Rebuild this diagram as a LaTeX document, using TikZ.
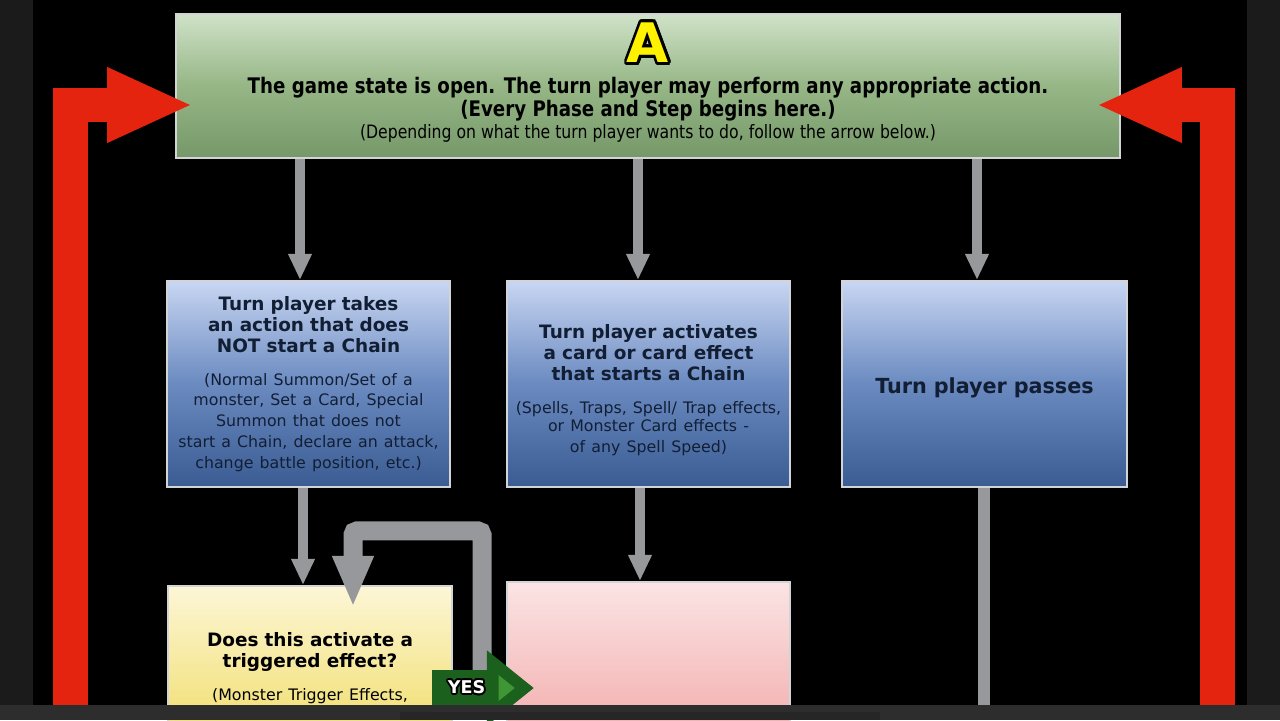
\documentclass[tikz,border=0pt]{standalone}
\usepackage{fontspec}
\setmainfont{DejaVu Sans}
\newfontfamily\condfont[FakeStretch=0.85]{DejaVu Sans}
\usepackage{contour}
\usetikzlibrary{arrows.meta,calc}

\definecolor{greenTop}{RGB}{208,226,200}
\definecolor{greenMid}{RGB}{150,182,134}
\definecolor{greenBot}{RGB}{118,152,104}
\definecolor{blueTop}{RGB}{200,214,242}
\definecolor{blueMid}{RGB}{106,138,192}
\definecolor{blueBot}{RGB}{58,92,146}
\definecolor{yellowTop}{RGB}{252,246,214}
\definecolor{yellowBot}{RGB}{240,220,100}
\definecolor{pinkTop}{RGB}{251,228,228}
\definecolor{pinkBot}{RGB}{242,168,168}
\definecolor{arrowRed}{RGB}{228,36,14}
\definecolor{shaftGray}{RGB}{150,152,156}
\definecolor{rimGray}{RGB}{210,212,216}
\definecolor{yesDark}{RGB}{28,96,30}
\definecolor{yesLight}{RGB}{62,150,52}
\definecolor{textNavy}{RGB}{18,30,52}
\definecolor{sideGray}{RGB}{27,27,27}
\definecolor{barGray}{RGB}{45,45,45}

\newcommand{\titleFont}{\bfseries\fontsize{10.5}{11.9}\selectfont}
\newcommand{\noteFont}{\mdseries\fontsize{9}{11.8}\selectfont}

\begin{document}
\begin{tikzpicture}[x=0.02cm, y=-0.02cm]
  \tikzstyle{box} = [rectangle, draw=rimGray, line width=1.2pt, inner sep=0pt, text=textNavy, align=center]
  \tikzstyle{openBox} = [box, minimum width=18.88cm, minimum height=2.88cm, top color=greenTop, bottom color=greenBot, middle color=greenMid]
  \tikzstyle{actionBox} = [box, minimum width=5.66cm, minimum height=4.12cm, top color=blueTop, bottom color=blueBot, middle color=blueMid, text width=5.4cm, font=\titleFont]
  \tikzstyle{triggerBox} = [box, minimum width=5.68cm, minimum height=3.28cm, top color=yellowTop, bottom color=yellowBot, text width=5.4cm, text=black, font=\titleFont]
  \tikzstyle{chainBox} = [box, minimum width=5.66cm, minimum height=3.36cm, top color=pinkTop, bottom color=pinkBot]

  \tikzstyle{grayEdge} = [draw=shaftGray, line width=0.2cm, -{Triangle[length=0.52cm, width=0.44cm]}]
  \tikzstyle{loopEdge} = [draw=shaftGray, line width=0.38cm, rounded corners=0.08cm, -{Triangle[length=1.02cm, width=0.76cm]}]
  \tikzstyle{redEdge} = [draw=arrowRed, line width=0.7cm, -{Triangle[length=1.72cm, width=1.38cm]}]
  \tikzstyle{yesEdge} = [draw=yesDark, line width=0.72cm, -{Triangle[length=0.94cm, width=1.44cm, fill=yesLight]}]
  \tikzstyle{yesLabel} = [text=white, font=\bfseries\fontsize{10}{10}\selectfont]

  % screen
  \useasboundingbox (0,0) rectangle (1280,720);
  \fill[black] (0,0) rectangle (1280,720);
  \fill[sideGray] (0,0) rectangle (33,720);
  \fill[sideGray] (1247,0) rectangle (1280,720);

  % boxes
  \node[openBox] (A) at (648,86) {};
  \node[text=yellow, font=\bfseries\fontsize{31}{31}\selectfont] (Aletter) at (648,44) {\contourlength{1.6pt}\contour{black}{A}};
  \node[text=black, align=center, font=\condfont\bfseries\fontsize{12.2}{11.3}\selectfont] (Atext) at (648,110)
    {The game state is open. The turn player may perform any appropriate action.\\
     (Every Phase and Step begins here.)\\[1.5pt]
     {\mdseries\fontsize{10.5}{10}\selectfont (Depending on what the turn player wants to do, follow the arrow below.)}};

  \node[actionBox] (B) at (308.5,384)
    {Turn player takes\\ an action that does\\ NOT start a Chain\par\vspace{6.8pt}
     \noteFont (Normal Summon/Set of a\\ monster, Set a Card, Special\\ Summon that does not\\ start a Chain, declare an attack,\\ change battle position, etc.)};
  \node[actionBox] (C) at (648.5,384)
    {\rule{0pt}{15pt}Turn player activates\\ a card or card effect\\ that starts a Chain\par\vspace{9pt}
     \mdseries\fontsize{9}{10}\selectfont (Spells, Traps, Spell/ Trap effects,\\ or Monster Card effects -\\ of any Spell Speed)};
  \node[actionBox, minimum width=5.7cm, font=\bfseries\fontsize{11.8}{12}\selectfont] (D) at (984.5,384) {\rule{0pt}{13.5pt}Turn player passes};

  \node[triggerBox] (E) at (310,668)
    {Does this activate a\\ triggered effect?\par\vspace{6.8pt}
     \noteFont (Monster Trigger Effects,};
  \node[chainBox] (F) at (648.5,666) {};

  % down arrows
  \draw[grayEdge, transform canvas={xshift=-0.17cm}] (A.south -| B.north) -- (B.north);
  \draw[grayEdge, transform canvas={xshift=-0.21cm}] (A.south -| C.north) -- (C.north);
  \draw[grayEdge, transform canvas={xshift=-0.15cm}] (A.south -| D.north) -- (D.north);
  \draw[grayEdge, transform canvas={xshift=-0.14cm}] (B.south -| E.north) -- (E.north);
  \draw[grayEdge, transform canvas={xshift=-0.17cm}] (C.south -| F.north) -- (F.north);
  \coordinate (passEnd) at (984,720);
  \draw[draw=shaftGray, line width=0.24cm] (D.south -| passEnd) -- (passEnd);

  % yes loop
  \coordinate (yes) at (432,688);
  \draw[loopEdge] ($(yes)+(50,-18)$) |- ($(E.north)+(43,-54)$) -- ($(E.north)+(43,22)$);
  \draw[yesEdge] (yes) -- ($(F.west)+(28,22)$) node[yesLabel, pos=0.34] {\contourlength{1pt}\contour{black}{YES}};

  % back to A
  \coordinate (backL) at (70.5,720);
  \coordinate (backR) at (1217.5,720);
  \draw[redEdge] (backL) |- ($(A.west)+(18,19)$);
  \draw[redEdge] (backR) |- ($(A.east)+(-25,19)$);

  % player bar
  \fill[barGray] (0,705) rectangle (1280,720);
  \fill[black!85] (400,712) rectangle (880,720);
\end{tikzpicture}
\end{document}
